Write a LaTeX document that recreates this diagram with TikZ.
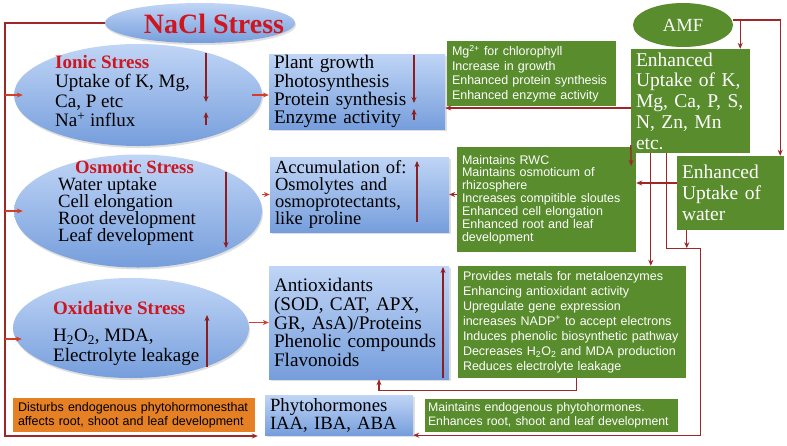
\documentclass[tikz,border=0pt]{standalone}
\usepackage{fontspec}
\setmainfont{Liberation Serif}
\setsansfont{Liberation Sans}
\usetikzlibrary{shapes}
\usetikzlibrary{shadows}
\usetikzlibrary{arrows.meta}
\definecolor{railred}{RGB}{158,40,40}
\definecolor{arrred}{RGB}{208,62,44}
\definecolor{markred}{RGB}{140,30,32}
\definecolor{titlered}{RGB}{205,22,32}
\definecolor{amfgreen}{RGB}{88,140,44}
\definecolor{boxorange}{RGB}{230,128,36}
\definecolor{bluetop}{RGB}{192,213,246}
\definecolor{bluebot}{RGB}{118,158,220}
\newcommand{\stresstitle}[1]{{\bfseries\color{titlered}#1}}
\tikzset{
    stressell/.style = {ellipse, top color=bluetop, bottom color=bluebot, draw=none, inner sep=0pt, drop shadow={opacity=0.25,shadow xshift=1pt,shadow yshift=-2pt}},
    stresstext/.style = {align=left, inner sep=0pt, text=black, font=\fontsize{19}{19.5}\selectfont},
    effbox/.style = {rectangle, top color=bluetop, bottom color=bluebot, draw=none, align=left, inner xsep=5pt, inner ysep=0pt, text=black, font=\fontsize{19.2}{16.4}\selectfont, drop shadow={opacity=0.25,shadow xshift=1.5pt,shadow yshift=-2pt}},
    greenbox/.style = {rectangle, fill=amfgreen, draw=none, align=left, inner xsep=5pt, inner ysep=0pt, text=white, font=\sffamily\fontsize{12.5}{14.7}\selectfont},
    greenserif/.style = {rectangle, fill=amfgreen, draw=none, align=left, inner xsep=5pt, inner ysep=0pt, text=white, font=\fontsize{19.5}{20.7}\selectfont},
    orangebox/.style = {rectangle, fill=boxorange, draw=none, align=left, inner xsep=5pt, inner ysep=0pt, text=black, font=\sffamily\fontsize{12.5}{14}\selectfont},
    amfell/.style = {ellipse, fill=amfgreen, draw=none, inner sep=0pt, text=white, font=\fontsize{18.5}{18.5}\selectfont},
    edgel/.style = {-{Stealth[length=6pt,width=5pt]}, line width=1.3pt, railred},
    edger/.style = {-{Stealth[length=6pt,width=5pt]}, line width=1.3pt, arrred},
    edged/.style = {-{Stealth[length=6pt,width=5pt]}, line width=1.3pt, railred},
    edgem/.style = {-{Stealth[length=6pt,width=5pt]}, line width=1.2pt, markred}
}

\begin{document}
\begin{tikzpicture}[x=1pt, y=-1pt]
  \fill[white] (0,0) rectangle (787,445);
  \useasboundingbox (0,0) rectangle (787,445);

  % stresses
  \node[stressell, minimum width=190pt, minimum height=40pt] (nacl) at (200,23) {};
  \node[text=titlered, font=\bfseries\fontsize{28}{28}\selectfont] (nacltxt) at (214,24) {NaCl Stress};
  \node[stressell, minimum width=248pt, minimum height=102pt] (ionic) at (138,95) {};
  \node[stresstext, anchor=north west] (ionictxt) at (55,55) {\stresstitle{Ionic Stress}\\Uptake of K, Mg,\\Ca, P etc\\Na\textsuperscript{+} influx};
  \node[stressell, minimum width=248pt, minimum height=113pt] (osmotic) at (138,211) {};
  \node[stresstext, anchor=north west, font=\fontsize{18.7}{17.2}\selectfont] (osmtxt) at (58,160) {\hspace*{17pt}\stresstitle{Osmotic Stress}\\Water uptake\\Cell elongation\\Root development\\Leaf development};
  \node[stressell, minimum width=236pt, minimum height=100pt] (oxid) at (131,328) {};
  \node[stresstext, anchor=north west] (oxtxt) at (53,301) {\stresstitle{Oxidative Stress}\\[8pt]H\textsubscript{2}O\textsubscript{2}, MDA,\\Electrolyte leakage};
  \node[orangebox, text width=232pt, minimum height=34pt] (dist) at (134,415) {Disturbs endogenous phytohormonesthat\\affects root, shoot and leaf development};

  % effects
  \node[effbox, text width=166pt, minimum height=75pt] (growth) at (357,91.5) {Plant growth\\Photosynthesis\\Protein synthesis\\Enzyme activity};
  \node[effbox, text width=169pt, minimum height=75pt, font=\fontsize{18.5}{17}\selectfont] (accum) at (359.5,194.5) {Accumulation of:\\Osmolytes and\\osmoprotectants,\\like proline};
  \node[effbox, text width=170pt, minimum height=113pt, font=\fontsize{19.2}{18.8}\selectfont] (antiox) at (359,322.5) {Antioxidants\\(SOD, CAT, APX,\\GR, AsA)/Proteins\\Phenolic compounds\\Flavonoids};
  \node[effbox, text width=138pt, minimum height=40pt, font=\fontsize{18.7}{18}\selectfont] (phyto) at (339,415) {Phytohormones\\IAA, IBA, ABA};

  % AMF
  \node[amfell, minimum width=100pt, minimum height=44pt] (amf) at (683,25) {AMF};
  \node[greenserif, text width=109pt, minimum height=104pt] (genh) at (690.5,101) {Enhanced\\Uptake of K,\\Mg, Ca, P, S,\\N, Zn, Mn\\etc.};
  \node[greenserif, text width=97pt, minimum height=74pt, font=\fontsize{19.5}{21}\selectfont] (gwat) at (730.5,193) {Enhanced\\Uptake of\\water};
  \node[greenbox, text width=159pt, minimum height=65pt] (gmg) at (531.5,73.5) {Mg\textsuperscript{2+} for chlorophyll\\Increase in growth\\Enhanced protein synthesis\\Enhanced enzyme activity};
  \node[greenbox, text width=169pt, minimum height=105pt, font=\sffamily\fontsize{12.5}{12.9}\selectfont] (grwc) at (546.5,199.5) {Maintains RWC\\Maintains osmoticum of\\rhizosphere\\Increases compitible sloutes\\Enhanced cell elongation\\Enhanced root and leaf\\development};
  \node[greenbox, text width=218pt, minimum height=112pt, font=\sffamily\fontsize{12.5}{15}\selectfont] (gmet) at (572,322) {Provides metals for metaloenzymes\\Enhancing antioxidant activity\\Upregulate gene expression\\increases NADP\textsuperscript{+} to accept electrons\\Induces phenolic biosynthetic pathway\\Decreases H\textsubscript{2}O\textsubscript{2} and MDA production\\Reduces electrolyte leakage};
  \node[greenbox, inner xsep=3pt, text width=247pt, minimum height=33pt, font=\sffamily\fontsize{12.3}{13.5}\selectfont] (gphy) at (551.5,415.5) {Maintains endogenous phytohormones.\\Enhances root, shoot and leaf development};

  % rail from NaCl
  \coordinate (railtop) at (5,23);
  \coordinate (railbot) at (5,436);
  \coordinate (phyin) at ([xshift=-7pt]phyto.south west);
  \draw[edgel] (nacl.west) -- (railtop) -- (railbot) -- (railbot -| phyin);
  \draw[edger] (railtop |- ionic.west) -- ([xshift=9pt]ionic.west);
  \draw[edger] (railtop |- osmotic.west) -- ([xshift=9pt]osmotic.west);
  \coordinate (oxin) at ([xshift=9pt,yshift=-11pt]oxid.west);
  \draw[edger] (railtop |- oxin) -- (oxin);
  \draw[edger] ([xshift=-10pt]ionic.east) -- (growth.west |- ionic.east);
  \draw[edger] (osmotic.east |- accum.west) -- (accum.west);
  \draw[edger] (oxid.east |- antiox.west) -- (antiox.west);

  % AMF links
  \coordinate (amfout) at ([yshift=5pt]amf.east);
  \coordinate (amfdrop) at ([xshift=-10pt]genh.north east);
  \coordinate (watdrop) at ([xshift=-4pt]gwat.north east);
  \draw[edged] (amfout) -| (watdrop);
  \draw[edged] (amfdrop |- amfout) -- (amfdrop);
  \coordinate (enhout) at ([yshift=-7pt]genh.west);
  \draw[edged] (enhout) -- (growth.east |- enhout);
  \draw[edged] ([yshift=8pt]genh.south west) -- ([xshift=-5pt,yshift=-19pt]grwc.north east);
  \coordinate (watout) at ([yshift=10pt]gwat.west);
  \draw[edged] (watout) -- (grwc.east |- watout);
  \draw[edged] (grwc.west |- accum.east) -- (accum.east);
  \coordinate (enhmet) at ([xshift=20pt]genh.south west);
  \draw[edged] (enhmet) -- (enhmet |- gmet.north);
  \coordinate (enhphy) at ([xshift=36pt]genh.south west);
  \coordinate (watjoin) at ([xshift=24pt,yshift=-18pt]gwat.south west);
  \coordinate (watdown) at ([xshift=10pt]gwat.south west);
  \draw[edged] (enhphy) |- (watjoin) |- (phyto.south east);
  \draw[edged] (watdown) -- (watdown |- watjoin);
  \coordinate (metout) at ([xshift=119pt]gmet.south west);
  \coordinate (antin) at ([xshift=20pt]antiox.south);
  \draw[edged] (metout) -- ++(0,12) -| (antin);

  % up and down marks
  \draw[edgem] (206,53) -- (206,102);
  \draw[edgem] (206,125) -- (206,112);
  \draw[edgem] (414,55) -- (414,103);
  \draw[edgem] (414,120) -- (414,109);
  \draw[edgem] (226,172) -- (226,248);
  \draw[edgem] (417,222) -- (417,161);
  \draw[edgem] (207,367) -- (207,315);
  \draw[edgem] (443,378) -- (443,267);
\end{tikzpicture}
\end{document}
